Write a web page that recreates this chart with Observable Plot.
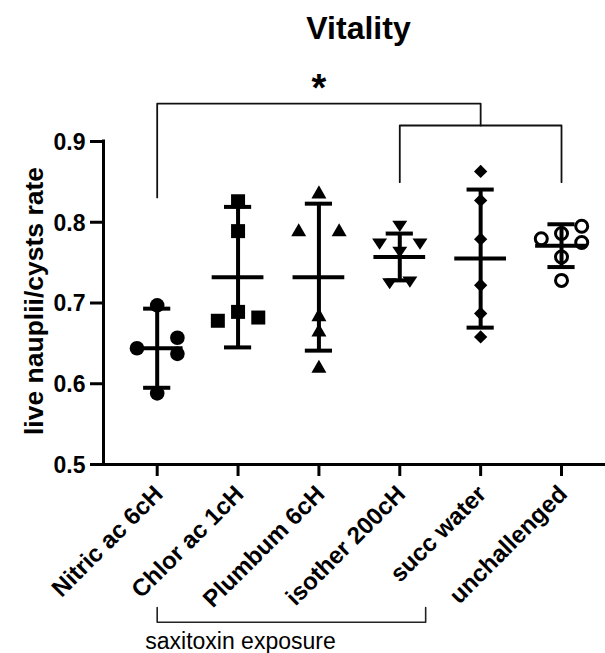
<!DOCTYPE html>
<html>
<head>
<meta charset="utf-8">
<script src="https://cdn.jsdelivr.net/npm/d3@7"></script>
<script src="https://cdn.jsdelivr.net/npm/@observablehq/plot@0.6"></script>
<style>
  html, body { margin: 0; padding: 0; background: #fff; }
</style>
</head>
<body>
<div id="chart"></div>
<script>
// ---- data ----
const categories = ["Nitric ac 6cH", "Chlor ac 1cH", "Plumbum 6cH", "isother 200cH", "succ water", "unchallenged"];

const nitricValues       = [0.697, 0.657, 0.644, 0.637, 0.588];
const chlorValues        = [0.826, 0.789, 0.689, 0.678, 0.682];
const plumbumValues      = [0.837, 0.790, 0.790, 0.685, 0.666, 0.621];
const isotherValues      = [0.795, 0.773, 0.773, 0.763, 0.724, 0.726];
const succWaterValues    = [0.863, 0.827, 0.779, 0.722, 0.687, 0.658];
const unchallengedValues = [0.7795, 0.786, 0.795, 0.775, 0.757, 0.728];

// column (scatter slot) of each point inside its group, as seen in the picture
const nitricColumns       = [0, 1, -1, 1, 0];
const chlorColumns        = [0, 0, 0, -1, 1];
const plumbumColumns      = [0, -1, 1, 0, 0, 0];
const isotherColumns      = [0, -1, 1, 0, -0.5, 0.5];
const succWaterColumns    = [0, 0, 0, 0, 0, 0];
const unchallengedColumns = [-1, 0, 1, 1, 0, 0];

const groupMeans = [0.644, 0.732, 0.732, 0.757, 0.755, 0.771];
const groupSDs   = [0.049, 0.087, 0.091, 0.029, 0.0855, 0.0265];

const yTicks = [0.5, 0.6, 0.7, 0.8, 0.9];

const title = "Vitality";
const yLabel = "live nauplii/cysts rate";

// significance brackets: from group, to group, top level, foot levels
const comparisons = [
  {from: 0, to: 4, level: 0.947, foot: [0.8307, 0.9198], label: "*"},
  {from: 3, to: 5, level: 0.9198, foot: [0.8496, 0.8496], label: ""}
];
const exposureBracket = {from: 0, to: 3.32, level: 0.3047, foot: 0.3229, label: "saxitoxin exposure", labelX: 1.03, labelY: 0.2721};

// ---- build table ----
const groups = [
  [nitricValues, nitricColumns],
  [chlorValues, chlorColumns],
  [plumbumValues, plumbumColumns],
  [isotherValues, isotherColumns],
  [succWaterValues, succWaterColumns],
  [unchallengedValues, unchallengedColumns]
];
const rows = groups.map(([vals, cols], i) => vals.map((v, k) => ({i, v, col: cols[k]})));
const summary = groupMeans.map((m, i) => ({i, m, s: groupSDs[i]}));
const catIndex = d3.range(categories.length);

// ---- symbols ----
const rad = s => Math.sqrt(s / Math.PI);
const symSquare = {draw(c, s) { const r = rad(s); c.rect(-r, -r, 2 * r, 2 * r); }};
const symTriUp = {draw(c, s) { const r = rad(s); c.moveTo(0, -r); c.lineTo(r * 1.07, r * 0.86); c.lineTo(-r * 1.07, r * 0.86); c.closePath(); }};
const symTriDown = {draw(c, s) { const r = rad(s); c.moveTo(-r * 1.07, -r * 0.78); c.lineTo(r * 1.07, -r * 0.78); c.lineTo(0, r * 0.82); c.closePath(); }};
const symDiamond = {draw(c, s) { const r = rad(s) * 0.95; c.moveTo(0, -r); c.lineTo(r, 0); c.lineTo(0, r); c.lineTo(-r, 0); c.closePath(); }};
const groupStyle = [
  {symbol: "circle", r: 7.3, fill: "black"},
  {symbol: symSquare, r: 7, fill: "black"},
  {symbol: symTriUp, r: 7, fill: "black"},
  {symbol: symTriDown, r: 7, fill: "black"},
  {symbol: symDiamond, r: 7, fill: "black"},
  {symbol: "circle", r: 6, fill: "white", stroke: "black", strokeWidth: 3}
];

const slot = 0.25;       // width of one scatter column in category units
const xMin = -0.664, xMax = 5.544;

const marks = [];
rows.forEach((data, g) => {
  marks.push(Plot.dot(data, {x: d => d.i + d.col * slot, y: "v", ...groupStyle[g]}));
});
// error bars (mean ± SD)
marks.push(
  Plot.ruleX(summary, {x: "i", y1: d => d.m - d.s, y2: d => d.m + d.s, strokeWidth: 4}),
  Plot.ruleY(summary, {y: d => d.m + d.s, x1: d => d.i - 0.168, x2: d => d.i + 0.168, strokeWidth: 4}),
  Plot.ruleY(summary, {y: d => d.m - d.s, x1: d => d.i - 0.168, x2: d => d.i + 0.168, strokeWidth: 4}),
  Plot.ruleY(summary, {y: "m", x1: d => d.i - 0.32, x2: d => d.i + 0.32, strokeWidth: 4})
);
// axes: lines, ticks, labels
marks.push(
  Plot.ruleX([xMin], {y1: 0.5, y2: 0.9, strokeWidth: 3, strokeLinecap: "square"}),
  Plot.ruleY([0.5], {x1: xMin, x2: xMax, strokeWidth: 3, strokeLinecap: "square"}),
  Plot.axisY({ticks: yTicks, tickFormat: () => "", tickSize: 13, strokeWidth: 3, label: null}),
  Plot.axisX({ticks: catIndex, tickFormat: () => "", tickSize: 12, strokeWidth: 3, label: null}),
  Plot.text(yTicks, {x: xMin, y: d => d, text: d3.format(".1f"), textAnchor: "end", lineAnchor: "middle", dx: -18, dy: 1, fontSize: 23, fontWeight: "bold"}),
  Plot.text(catIndex, {x: d => d, y: 0.5, text: i => categories[i], rotate: -45, textAnchor: "end", lineAnchor: "bottom", dx: 7, dy: 31, fontSize: 24, fontWeight: "bold"})
);
// significance brackets
comparisons.forEach(c => {
  marks.push(Plot.line([[c.from, c.foot[0]], [c.from, c.level], [c.to, c.level], [c.to, c.foot[1]]], {strokeWidth: 1.8, stroke: "#111"}));
  if (c.label) marks.push(Plot.text([c.label], {x: (c.from + c.to) / 2, y: c.level, dy: -3, lineAnchor: "bottom", fontSize: 38, fontWeight: "bold"}));
});
// exposure bracket
const eb = exposureBracket;
marks.push(
  Plot.line([[eb.from, eb.foot], [eb.from, eb.level], [eb.to, eb.level], [eb.to, eb.foot]], {strokeWidth: 1.6, stroke: "#222"}),
  Plot.text([eb.label], {x: eb.labelX, y: eb.labelY, lineAnchor: "bottom", fontSize: 23, fontWeight: "normal"})
);
// title & y label
marks.push(
  Plot.text([title], {frameAnchor: "top", dx: 4, dy: -103, textAnchor: "middle", lineAnchor: "bottom", fontSize: 32, fontWeight: "bold"}),
  Plot.text([yLabel], {frameAnchor: "left", rotate: -90, dx: -61, dy: -2, textAnchor: "middle", lineAnchor: "bottom", fontSize: 26.5, fontWeight: "bold"})
);

const chart = Plot.plot({
  width: 605,
  height: 653,
  marginLeft: 103,
  marginRight: 0,
  marginTop: 141,
  marginBottom: 189,
  x: {type: "linear", domain: [xMin, xMax], axis: null},
  y: {domain: [0.5, 0.9], axis: null},
  style: {fontFamily: "'Liberation Sans', Arial, sans-serif", color: "black", background: "white", overflow: "visible"},
  marks
});
document.getElementById("chart").appendChild(chart);
</script>
</body>
</html>
